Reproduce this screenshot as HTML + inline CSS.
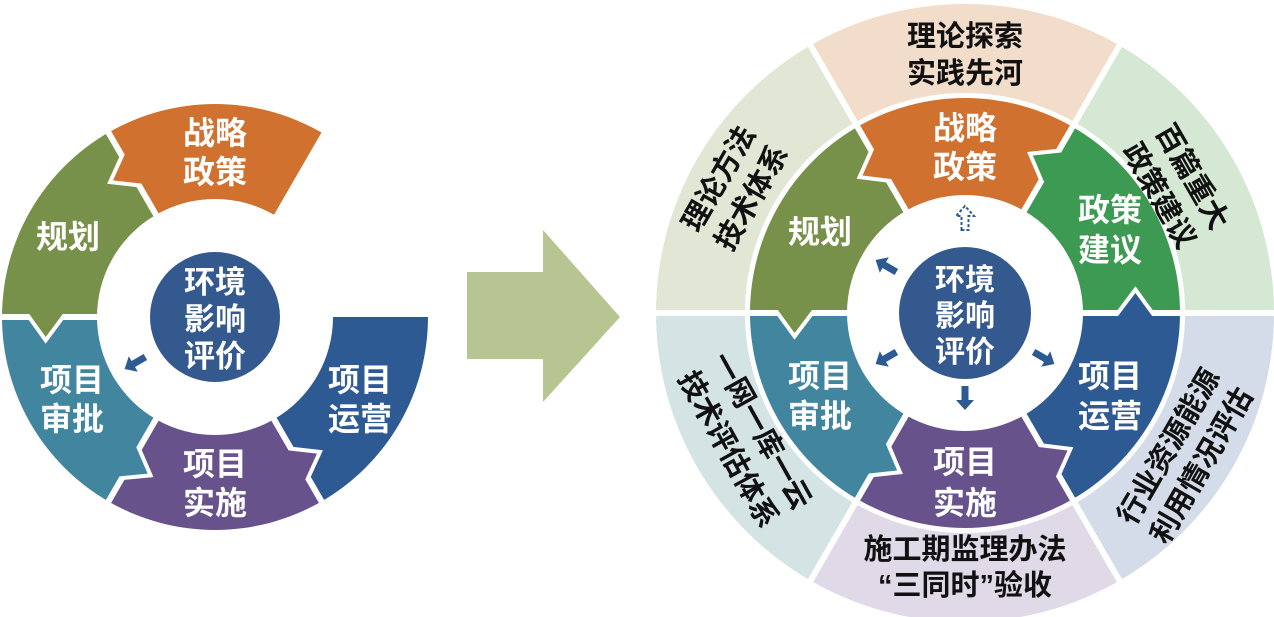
<!DOCTYPE html>
<html><head><meta charset="utf-8">
<style>
html,body{margin:0;padding:0;background:#fff;}
svg{display:block;}
text{font-family:"Liberation Sans","Noto Sans CJK SC","WenQuanYi Zen Hei",sans-serif;font-weight:bold;}
.w{fill:#fff;font-size:32px;text-anchor:middle;}
.b{fill:#111;font-size:29px;text-anchor:middle;}
</style></head>
<body>
<svg id="s" width="1274" height="617" viewBox="0 0 1274 617" xmlns="http://www.w3.org/2000/svg">
<defs id="defs"></defs>
<g id="shapes"></g>
<polygon points="467,272 543,272 543,230 620,317 543,402 543,359 467,359" fill="#b6c592"/>
<g id="arrows"></g>
<text class="w" x="215" y="144">战略</text>
<text class="w" x="215" y="183">政策</text>
<text class="w" x="68" y="248">规划</text>
<text class="w" x="72" y="391">项目</text>
<text class="w" x="72" y="430">审批</text>
<text class="w" x="215" y="475">项目</text>
<text class="w" x="215" y="514">实施</text>
<text class="w" x="360" y="391">项目</text>
<text class="w" x="360" y="430">运营</text>
<text class="w" x="215" y="293" style="font-size:31px">环境</text>
<text class="w" x="215" y="330" style="font-size:31px">影响</text>
<text class="w" x="215" y="367" style="font-size:31px">评价</text>
<text class="w" x="965" y="139">战略</text>
<text class="w" x="965" y="178">政策</text>
<text class="w" x="1110" y="221">政策</text>
<text class="w" x="1110" y="261">建议</text>
<text class="w" x="820" y="243">规划</text>
<text class="w" x="820" y="387">项目</text>
<text class="w" x="820" y="427">审批</text>
<text class="w" x="1110" y="387">项目</text>
<text class="w" x="1110" y="427">运营</text>
<text class="w" x="965" y="473">项目</text>
<text class="w" x="965" y="514">实施</text>
<text class="w" x="965" y="290" style="font-size:30px">环境</text>
<text class="w" x="965" y="326" style="font-size:30px">影响</text>
<text class="w" x="965" y="362" style="font-size:30px">评价</text>
<text class="b" x="965" y="46">理论探索</text>
<text class="b" x="965" y="83">实践先河</text>
<text class="b" x="965" y="559">施工期监理办法</text>
<text class="b" x="965" y="595">“三同时”验收</text>
<g transform="translate(735,188) rotate(-60)"><text class="b" x="0" y="-9">理论方法</text><text class="b" x="0" y="29">技术体系</text></g>
<g transform="translate(1176,186) rotate(60)"><text class="b" x="0" y="-9">百篇重大</text><text class="b" x="0" y="29">政策建议</text></g>
<g transform="translate(1185,456) rotate(-60)"><text class="b" x="0" y="-9">行业资源能源</text><text class="b" x="0" y="29">利用情况评估</text></g>
<g transform="translate(745,440) rotate(61)"><text class="b" x="0" y="-9">一网一库一云</text><text class="b" x="0" y="29">技术评估体系</text></g>
</svg>
<script>
(function(){
var NS="http://www.w3.org/2000/svg";
var G=document.getElementById("shapes"),D=document.getElementById("defs"),A=document.getElementById("arrows");
var cid=0;
function el(tag,attrs,parent){var e=document.createElementNS(NS,tag);for(var k in attrs)e.setAttribute(k,attrs[k]);(parent||G).appendChild(e);return e;}
function P(cx,cy,r,a){var t=a*Math.PI/180;return [cx+r*Math.cos(t),cy-r*Math.sin(t)];}
function sector(cx,cy,r1,r2,a1,a2){
 var p1=P(cx,cy,r2,a1),p2=P(cx,cy,r2,a2),p3=P(cx,cy,r1,a2),p4=P(cx,cy,r1,a1);
 var lg=(a2-a1)>180?1:0;
 return "M"+p1+" A"+r2+","+r2+" 0 "+lg+" 0 "+p2+" L"+p3+" A"+r1+","+r1+" 0 "+lg+" 1 "+p4+"Z";
}
function ring(cx,cy,r1,r2,segs,lines,tips,gapW){
 segs.forEach(function(s){el("path",{d:sector(cx,cy,r1,r2,s[0],s[1]),fill:s[2]});});
 lines.forEach(function(a){var p=P(cx,cy,r1-3,a),q=P(cx,cy,r2+3,a);el("line",{x1:p[0],y1:p[1],x2:q[0],y2:q[1],stroke:"#fff","stroke-width":gapW});});
 tips.forEach(function(t){
  var a=t[0],col=t[1],rb1=r1+(r2-r1)*0.36,rb2=r1+(r2-r1)*0.72,rm=(rb1+rb2)/2,d=t[2]||20;
  var th=a*Math.PI/180;
  var b1=P(cx,cy,rb1,a-1.2),b2=P(cx,cy,rb2,a-1.2),m=P(cx,cy,rm,a);
  var ap=[m[0]-d*Math.sin(th),m[1]-d*Math.cos(th)];
  var pts=b1+" "+ap+" "+b2;
  var id="c"+(cid++);
  var cp=el("clipPath",{id:id},D);
  var w1=P(cx,cy,400,a),w2=P(cx,cy,400,a+45);
  el("polygon",{points:cx+","+cy+" "+w1+" "+w2},cp);
  el("polygon",{points:pts,fill:"none",stroke:"#fff","stroke-width":8,"stroke-linejoin":"miter","clip-path":"url(#"+id+")"});
  el("polygon",{points:pts,fill:col});
 });
}
var O="#d0712f",OL="#77904a",T="#41859f",PU="#67528b",BL="#2e5a93",GR="#3d9a52";
ring(215,317,118,213,[[60,120,O],[120,180,OL],[180,240,T],[240,300,PU],[300,360,BL]],[120,180,240,300],[[120,O],[180,OL],[240,T],[300,PU]],6);
el("circle",{cx:215,cy:317,r:65,fill:"#33598f"});
var cx=965,cy=313;
ring(cx,cy,220,309,[[60,120,"#f2dcca"],[120,180,"#e2e7d5"],[180,240,"#d4e4e5"],[240,300,"#e0d9e7"],[300,360,"#d3dce8"],[0,60,"#d5e8d4"]],[0,60,120,180,240,300],[],6);
el("circle",{cx:cx,cy:cy,r:217.5,fill:"none",stroke:"#fff","stroke-width":5});
ring(cx,cy,118,215,[[60,120,O],[120,180,OL],[180,240,T],[240,300,PU],[300,360,BL],[0,60,GR]],[0,60,120,180,240,300],[[0,BL],[60,GR],[120,O],[180,OL],[240,T],[300,PU]],6);
el("circle",{cx:cx,cy:cy,r:66,fill:"#33598f"});
var AP="M-3.5,12 L-3.5,-2 L-9,-2 L0,-12 L9,-2 L3.5,-2 L3.5,12Z";
function arr(x,y,rot,dash){
 var g=el("g",{transform:"translate("+x+","+y+") rotate("+rot+")"},A);
 if(dash) el("path",{d:AP,fill:"#fff",stroke:"#2e5a93","stroke-width":2,"stroke-dasharray":"3,2"},g);
 else el("path",{d:AP,fill:"#2e5a93"},g);
}
arr(965,218,0,true);
arr(886,266,-60);
arr(886,358,-120);
arr(1044,358,120);
arr(965,398,180);
arr(135,363,-120);
})();
</script>
</body></html>
